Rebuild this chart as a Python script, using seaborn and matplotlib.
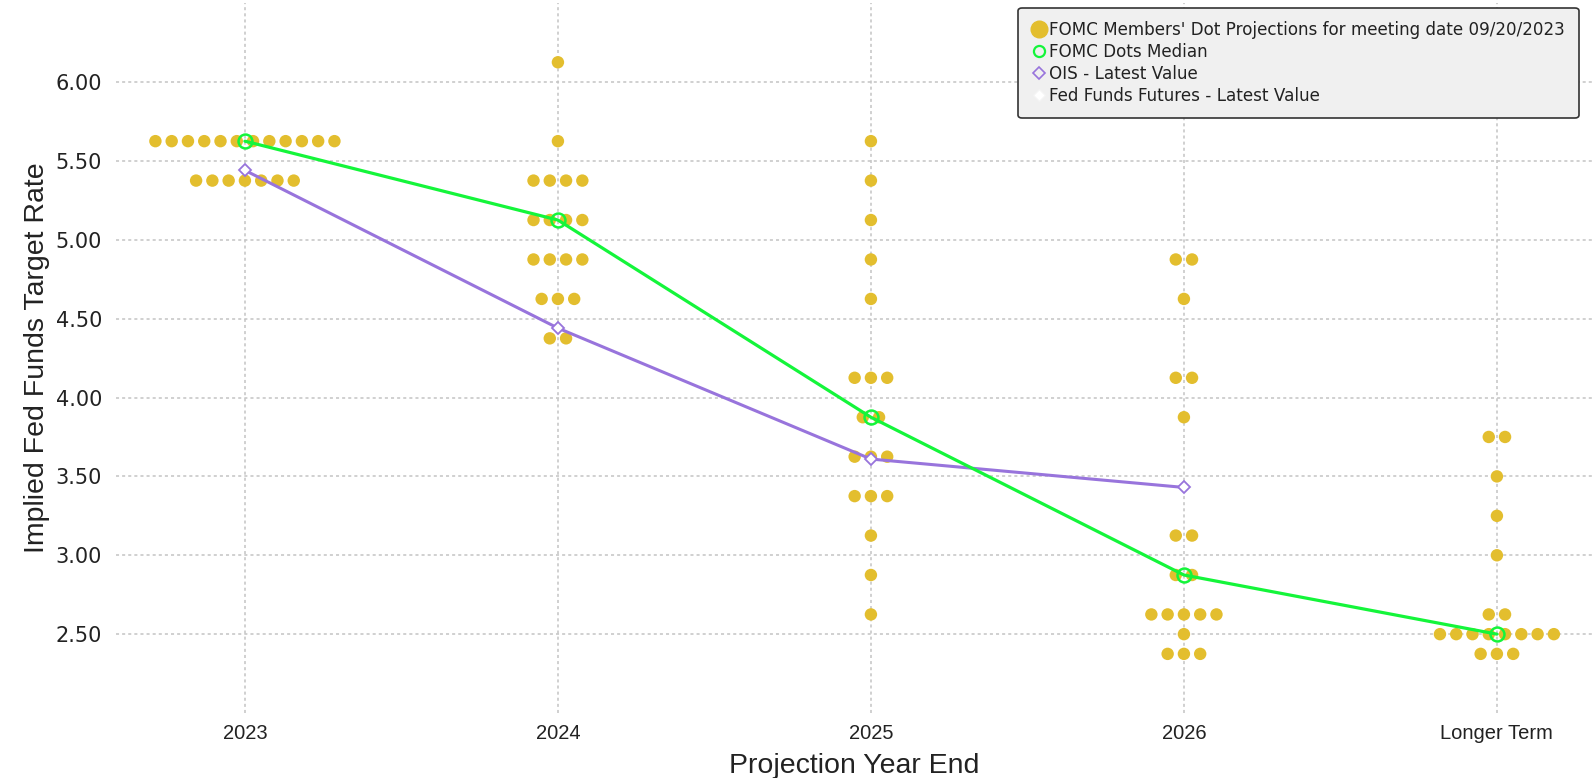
import numpy as np
import pandas as pd
import matplotlib
matplotlib.use('Agg')
import matplotlib.pyplot as plt
from matplotlib.lines import Line2D
import seaborn as sns

sns.set_style('white')
plt.rcParams['font.family'] = ['DejaVu Sans']

# data
years = ['2023', '2024', '2025', '2026', 'Longer Term']

dots_2023 = [5.625] * 12 + [5.375] * 7
dots_2024 = [6.125, 5.625, 5.375, 5.375, 5.375, 5.375, 5.125, 5.125, 5.125, 5.125,
             4.875, 4.875, 4.875, 4.875, 4.625, 4.625, 4.625, 4.375, 4.375]
dots_2025 = [5.625, 5.375, 5.125, 4.875, 4.625, 4.125, 4.125, 4.125, 3.875, 3.875,
             3.625, 3.625, 3.625, 3.375, 3.375, 3.375, 3.125, 2.875, 2.625]
dots_2026 = [4.875, 4.875, 4.625, 4.125, 4.125, 3.875, 3.125, 3.125, 2.875, 2.875,
             2.625, 2.625, 2.625, 2.625, 2.625, 2.5, 2.375, 2.375, 2.375]
dots_longer = [3.75, 3.75, 3.5, 3.25, 3.0, 2.625, 2.625, 2.5, 2.5, 2.5, 2.5,
               2.5, 2.5, 2.5, 2.5, 2.375, 2.375, 2.375]

median_dots = [5.625, 5.125, 3.875, 2.875, 2.5]
ois_latest = [5.44, 4.44, 3.61, 3.43]

gold = '#E3BE2E'
green = '#14F53A'
purple = '#9874DC'
narrow = ['Liberation Sans', 'DejaVu Sans']

# build long table, spreading equal values side by side
rows = []
for i, vals in enumerate([dots_2023, dots_2024, dots_2025, dots_2026, dots_longer]):
    s = pd.Series(vals)
    for rate, n in s.value_counts(sort=False).items():
        for k in range(n):
            rows.append({'pos': i + (k - (n - 1) / 2) * 0.052, 'rate': rate})
df = pd.DataFrame(rows)

fig = plt.figure(figsize=(15.93, 7.78), dpi=100)
ax = fig.add_axes([0.0728, 0.0835, 0.9272, 0.9125])

sns.scatterplot(data=df, x='pos', y='rate', ax=ax, color=gold, s=80,
                edgecolor='none', zorder=3, legend=False)

sns.lineplot(x=np.arange(len(median_dots)), y=median_dots, ax=ax, color=green,
             linewidth=2.3, marker='o', markersize=10, markerfacecolor='none',
             markeredgecolor=green, markeredgewidth=1.8, zorder=5)
sns.lineplot(x=np.arange(len(ois_latest)), y=ois_latest, ax=ax, color=purple,
             linewidth=2.2, marker='D', markersize=6, markerfacecolor='white',
             markeredgecolor=purple, markeredgewidth=1.3, zorder=4)

ax.set_xlim(-0.412, 4.307)
ax.set_ylim(2.0, 6.5)
ax.set_xticks(range(len(years)))
ax.set_xticklabels(years, family=narrow, fontsize=14.5)
ax.set_yticks(np.arange(2.5, 6.01, 0.5))
ax.set_yticklabels(['%.2f' % v for v in np.arange(2.5, 6.01, 0.5)], fontsize=15, color='#222222')
ax.tick_params(length=0)
ax.tick_params(axis='y', pad=10)
ax.tick_params(axis='x', pad=8, colors='#222222')

ax.grid(True, color='#c4c4c4', linestyle=(0, (2, 2)), linewidth=1.1)
ax.set_axisbelow(True)
sns.despine(ax=ax, left=True, bottom=True)

ax.set_xlabel('Projection Year End', family=narrow, fontsize=20.5, color='#222222', labelpad=7)
ax.set_ylabel('Implied Fed Funds Target Rate', family=narrow, fontsize=20.5,
              color='#222222', labelpad=4)

handles = [
    Line2D([], [], linestyle='none', marker='o', markersize=12, color=gold, markeredgecolor=gold),
    Line2D([], [], linestyle='none', marker='o', markersize=8, markerfacecolor='none',
           markeredgecolor=green, markeredgewidth=1.6),
    Line2D([], [], linestyle='none', marker='D', markersize=6, markerfacecolor='none',
           markeredgecolor=purple, markeredgewidth=1.2),
    Line2D([], [], linestyle='none', marker='D', markersize=6, markerfacecolor='white',
           markeredgecolor='#f4f4f4', markeredgewidth=1.0),
]
labels = ["FOMC Members' Dot Projections for meeting date 09/20/2023",
          'FOMC Dots Median', 'OIS - Latest Value', 'Fed Funds Futures - Latest Value']
leg = fig.legend(handles, labels, loc='upper right', bbox_to_anchor=(0.991, 0.99),
                 bbox_transform=fig.transFigure, borderaxespad=0, fontsize=12.1,
                 handletextpad=0.15, handlelength=0.9, labelspacing=0.23,
                 borderpad=0.8, frameon=True, fancybox=True, framealpha=1)
leg.get_frame().set_facecolor('#f0f0f0')
leg.get_frame().set_edgecolor('#333333')
leg.get_frame().set_linewidth(1.2)
for t in leg.get_texts():
    t.set_color('#222222')

fig.savefig('out.png', dpi=100)
